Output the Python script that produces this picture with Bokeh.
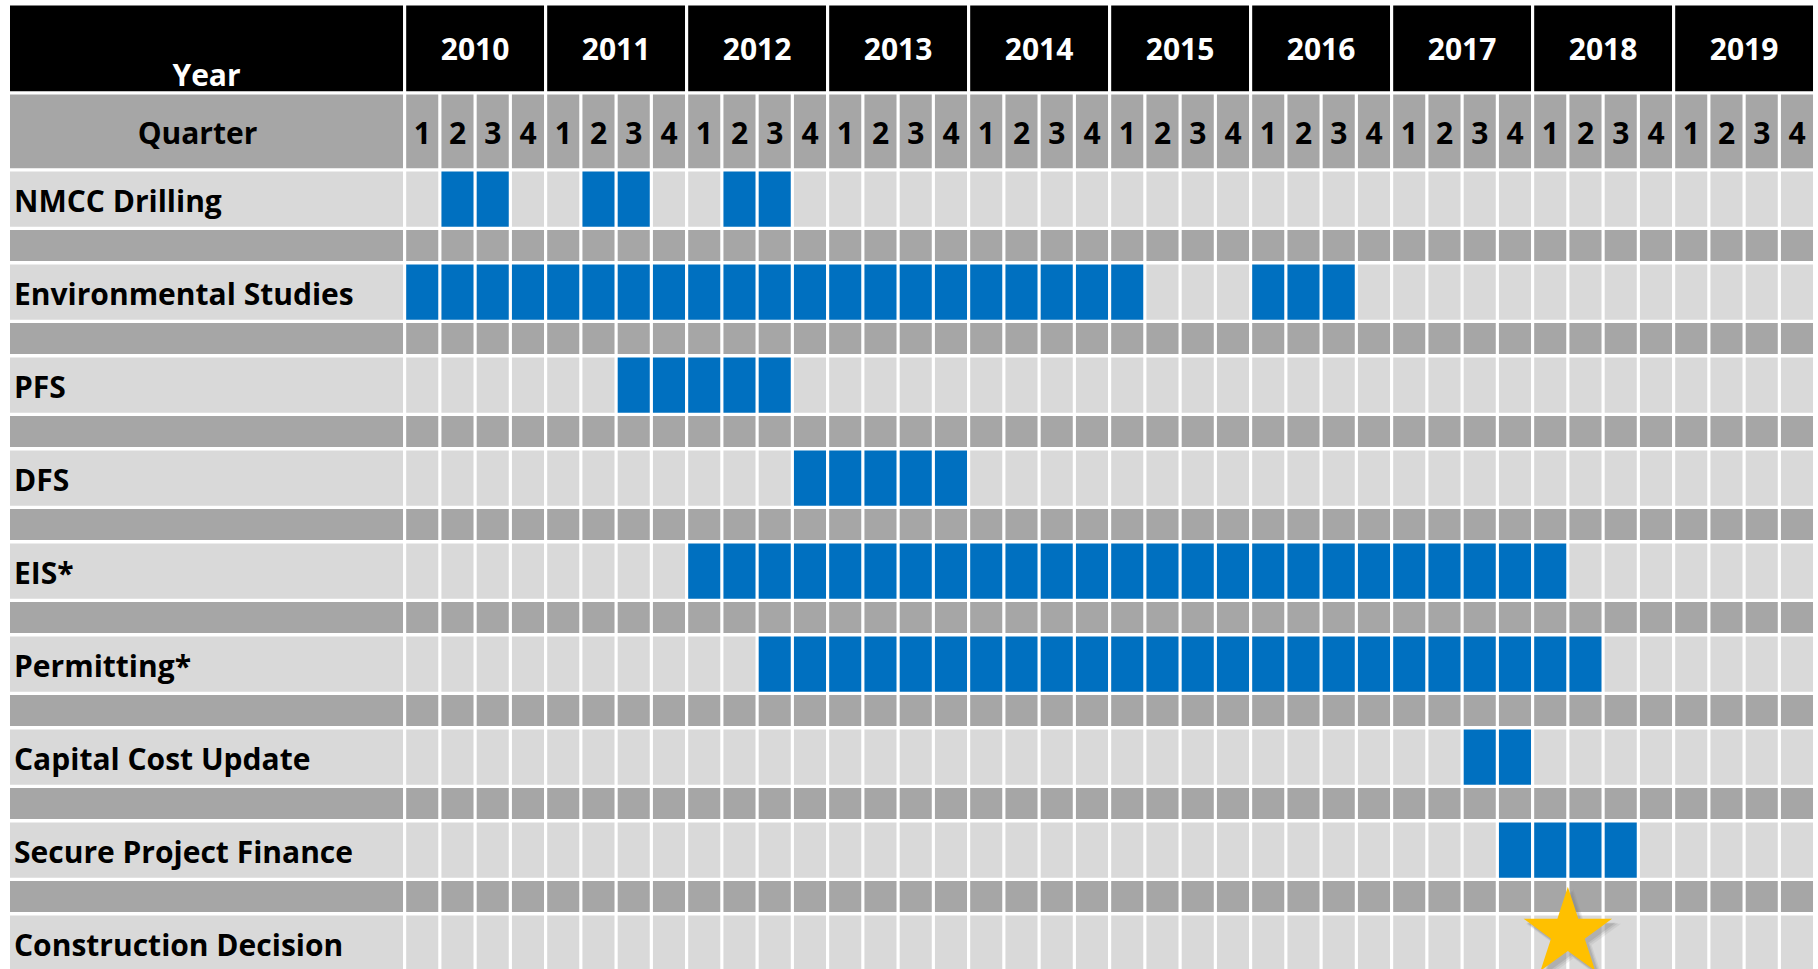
from bokeh.plotting import figure
from bokeh.models import Range1d, ColumnDataSource
from bokeh.core.properties import value
from bokeh.embed import file_html
from bokeh.resources import INLINE

# ---------------- data ----------------
years = [2010, 2011, 2012, 2013, 2014, 2015, 2016, 2017, 2018, 2019]
quarter_labels = ["1", "2", "3", "4"]
tasks = ["NMCC Drilling", "Environmental Studies", "PFS", "DFS", "EIS*",
         "Permitting*", "Capital Cost Update", "Secure Project Finance",
         "Construction Decision"]
task_periods = [
    [("2010Q2", "2010Q3"), ("2011Q2", "2011Q3"), ("2012Q2", "2012Q3")],
    [("2010Q1", "2015Q1"), ("2016Q1", "2016Q3")],
    [("2011Q3", "2012Q3")],
    [("2012Q4", "2013Q4")],
    [("2012Q1", "2018Q1")],
    [("2012Q3", "2018Q2")],
    [("2017Q3", "2017Q4")],
    [("2017Q4", "2018Q3")],
    [],
]
milestone_task = "Construction Decision"
milestone_date = 2018.25  # end of 2018 Q1

# ---------------- style / layout ----------------
BLACK = "#000000"
DARK = "#A6A6A6"
LIGHT = "#D9D9D9"
BLUE = "#0070C0"
GOLD = "#FFC000"
FONT = value("Open Sans")
FSIZE = "30px"

W, H = 1818, 969
X0, QW = 404.1, 35.25   # pixel position of quarter 0 boundary, quarter pitch
NQ = len(years) * 4
G = 0.09            # white gap in quarter units
LABEL_LEFT = (9.5 - X0) / QW
HEADER = (5.0, 90.7)
QROW = (94.0, 167.7)
TASK0 = 171.0
PITCH = 93.0
TASK_H = 55.3
SP_OFF = 58.6
SP_H = 31.0


def qidx(s):
    y, q = s.split("Q")
    return (int(y) - years[0]) * 4 + int(q) - 1


cells = dict(left=[], right=[], top=[], bottom=[], color=[])


def cell(l, r, t, b, c):
    cells["left"].append(l)
    cells["right"].append(r)
    cells["top"].append(t)
    cells["bottom"].append(b)
    cells["color"].append(c)


# header row
cell(LABEL_LEFT, -G / 2, HEADER[0], HEADER[1], BLACK)
for k, _ in enumerate(years):
    cell(4 * k + G / 2, 4 * k + 4 - G / 2, HEADER[0], HEADER[1], BLACK)
# quarter row
cell(LABEL_LEFT, -G / 2, QROW[0], QROW[1], DARK)
for i in range(NQ):
    cell(i + G / 2, i + 1 - G / 2, QROW[0], QROW[1], DARK)
# task rows and spacer rows
task_centers = []
for t, name in enumerate(tasks):
    top = TASK0 + PITCH * t
    bot = top + TASK_H
    task_centers.append((top + bot) / 2)
    active = set()
    for a, b in task_periods[t]:
        active.update(range(qidx(a), qidx(b) + 1))
    cell(LABEL_LEFT, -G / 2, top, bot, LIGHT)
    for i in range(NQ):
        cell(i + G / 2, i + 1 - G / 2, top, bot, BLUE if i in active else LIGHT)
    if t < len(tasks) - 1:
        st = top + SP_OFF
        sb = st + SP_H
        cell(LABEL_LEFT, -G / 2, st, sb, DARK)
        for i in range(NQ):
            cell(i + G / 2, i + 1 - G / 2, st, sb, DARK)

p = figure(width=W, height=H, x_range=Range1d(-X0 / QW, (W - X0) / QW),
           y_range=Range1d(H, 0), output_backend="svg", toolbar_location=None,
           min_border=0, x_axis_location=None, y_axis_location=None,
           background_fill_color="white", border_fill_color="white")
p.grid.visible = False
p.outline_line_color = None

p.quad(left="left", right="right", top="top", bottom="bottom",
       fill_color="color", line_color=None, source=ColumnDataSource(cells))

label_mid = (LABEL_LEFT - G / 2) / 2

# header texts
p.text(x=[label_mid], y=[74.0], text=["Year"], text_font=FONT,
       text_font_style="bold", text_font_size=FSIZE, text_color="white",
       text_align="center", text_baseline="middle")
p.text(x=[4 * k + 2 for k in range(len(years))], y=[48.5] * len(years),
       text=[str(y) for y in years], text_font=FONT, text_font_style="bold",
       text_font_size=FSIZE, text_color="white", text_align="center",
       text_baseline="middle")
qmid = (QROW[0] + QROW[1]) / 2 + 1.5
p.text(x=[label_mid], y=[qmid], text=["Quarter"], x_offset=-9, text_font=FONT,
       text_font_style="bold", text_font_size=FSIZE, text_color="black",
       text_align="center", text_baseline="middle")
p.text(x=[i + 0.5 for i in range(NQ)], y=[qmid] * NQ,
       text=[quarter_labels[i % 4] for i in range(NQ)], text_font=FONT,
       text_font_style="bold", text_font_size=FSIZE, text_color="black",
       text_align="center", text_baseline="middle")
# task labels
p.text(x=[LABEL_LEFT] * len(tasks), y=[c + 1.5 for c in task_centers],
       text=tasks, x_offset=4, text_font=FONT, text_font_style="bold",
       text_font_size=FSIZE, text_color="black", text_align="left",
       text_baseline="middle")

# milestone star
mx = (milestone_date - years[0]) * 4
my = task_centers[tasks.index(milestone_task)] - 10
for dx, dy, s, a in [(0.16, 6, 100, 0.12), (0.13, 5, 96, 0.18), (0.1, 4, 93, 0.25)]:
    p.scatter(x=[mx + dx], y=[my + dy], marker="star", size=s,
              fill_color="#7f7f7f", fill_alpha=a, line_color=None)
p.scatter(x=[mx], y=[my], marker="star", size=93, fill_color=GOLD,
          line_color=None)

open("out.html", "w").write(file_html(p, INLINE))
